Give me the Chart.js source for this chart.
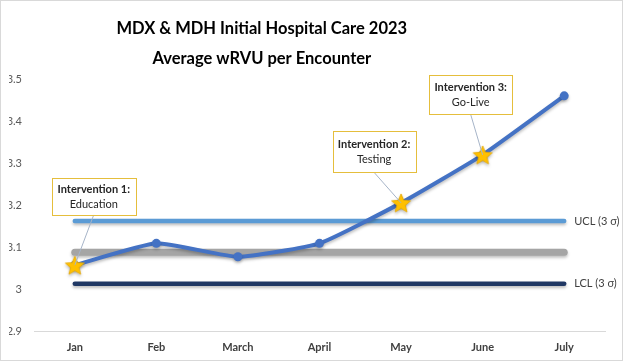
<!DOCTYPE html>
<html>
<head>
<meta charset="utf-8">
<title>MDX & MDH Initial Hospital Care 2023</title>
<script src="https://cdn.jsdelivr.net/npm/chart.js@4.4.1/dist/chart.umd.min.js"></script>
<style>
    html, body { margin: 0; padding: 0; background: #fff; }
    .chart-box {
        width: 621px;
        height: 359px;
        border: 1px solid #D9D9D9;
        position: relative;
    }
</style>
</head>
<body>
<div class="chart-box">
    <canvas id="wrvu-chart"></canvas>
</div>
<script>
// 数据
const months = ['Jan', 'Feb', 'March', 'April', 'May', 'June', 'July'];
const wrvu = [3.058, 3.11, 3.078, 3.11, 3.206, 3.32, 3.46];
const ucl = [3.163, 3.163, 3.163, 3.163, 3.163, 3.163, 3.163];
const mean = [3.089, 3.089, 3.089, 3.089, 3.089, 3.089, 3.089];
const lcl = [3.014, 3.014, 3.014, 3.014, 3.014, 3.014, 3.014];
const yTicks = [2.9, 3.0, 3.1, 3.2, 3.3, 3.4, 3.5];
const titleLines = ['MDX & MDH Initial Hospital Care 2023', 'Average wRVU per Encounter'];
// 干预节点 (月份索引 -> 标题 / 说明)
const interventionMonths = [0, 4, 5];
const interventionTitles = ['Intervention 1:', 'Intervention 2:', 'Intervention 3:'];
const interventionNotes = ['Education', 'Testing', 'Go-Live'];

const FONT = 'Lato, "Open Sans", sans-serif';

// 星形标记
function makeStar(size) {
    const c = document.createElement('canvas');
    c.width = size;
    c.height = size;
    const g = c.getContext('2d');
    const cx = size / 2, cy = size / 2 + 1;
    const outer = size / 2 - 1, inner = outer * 0.45;
    g.beginPath();
    for (let i = 0; i < 10; i++) {
        const r = i % 2 === 0 ? outer : inner;
        const a = -Math.PI / 2 + i * Math.PI / 5;
        g.lineTo(cx + r * Math.cos(a), cy + r * Math.sin(a));
    }
    g.closePath();
    g.fillStyle = '#FFC000';
    g.fill();
    g.strokeStyle = '#E6A800';
    g.lineWidth = 0.8;
    g.stroke();
    return c;
}

const starData = months.map((m, i) => interventionMonths.includes(i) ? wrvu[i] : null);

// 标题 (偏左居中, 与原图一致)
const titlePlugin = {
    id: 'chartTitle',
    afterDraw(chart) {
        const ctx = chart.ctx;
        ctx.save();
        ctx.fillStyle = '#000000';
        ctx.font = 'bold 16.5px ' + FONT;
        ctx.textAlign = 'center';
        ctx.textBaseline = 'middle';
        const cx = chart.width * 0.42;
        titleLines.forEach((t, i) => ctx.fillText(t, cx, 28 + i * 30));
        ctx.restore();
    }
};

// 标注框位置 (相对星形标记的偏移)
const calloutOffsets = [
    { dx: 19, dy: -69, w: 84, h: 37 },
    { dx: -27, dy: -51, w: 83, h: 41 },
    { dx: -12, dy: -60, w: 83, h: 39 }
];

const calloutPlugin = {
    id: 'callouts',
    afterDatasetsDraw(chart) {
        const ctx = chart.ctx;
        const meta = chart.getDatasetMeta(0);
        ctx.save();
        interventionMonths.forEach((idx, k) => {
            const pt = meta.data[idx];
            const o = calloutOffsets[k];
            const bx = pt.x + o.dx, by = pt.y + o.dy;
            // 连接线
            ctx.strokeStyle = '#A6B4C8';
            ctx.lineWidth = 1;
            ctx.beginPath();
            ctx.moveTo(bx, by + o.h / 2);
            ctx.lineTo(pt.x, pt.y);
            ctx.stroke();
            // 框
            ctx.fillStyle = '#FFFFFF';
            ctx.fillRect(bx - o.w / 2, by - o.h / 2, o.w, o.h);
            ctx.strokeStyle = '#E5BE3C';
            ctx.lineWidth = 1;
            ctx.strokeRect(Math.round(bx - o.w / 2) + 0.5, Math.round(by - o.h / 2) + 0.5, o.w, o.h);
            // 文字
            ctx.fillStyle = '#262626';
            ctx.textAlign = 'center';
            ctx.textBaseline = 'middle';
            ctx.font = 'bold 11px ' + FONT;
            ctx.fillText(interventionTitles[k], bx, by - 7);
            ctx.font = '11px ' + FONT;
            ctx.fillText(interventionNotes[k], bx, by + 8);
        });
        ctx.restore();
    }
};

// 控制限标签
const limitLabelPlugin = {
    id: 'limitLabels',
    afterDatasetsDraw(chart) {
        const ctx = chart.ctx;
        ctx.save();
        ctx.fillStyle = '#404040';
        ctx.font = '11px ' + FONT;
        ctx.textAlign = 'left';
        ctx.textBaseline = 'middle';
        [[2, 'UCL (3 σ)'], [4, 'LCL (3 σ)']].forEach(([di, text]) => {
            const m = chart.getDatasetMeta(di);
            const last = m.data[m.data.length - 1];
            ctx.fillText(text, last.x + 10, last.y);
        });
        ctx.restore();
    }
};

// 线条阴影
const shadowPlugin = {
    id: 'lineShadow',
    beforeDatasetsDraw(chart) {
        chart.ctx.save();
        chart.ctx.shadowColor = 'rgba(0,0,0,0.25)';
        chart.ctx.shadowBlur = 3;
        chart.ctx.shadowOffsetY = 2;
    },
    afterDatasetsDraw(chart) {
        chart.ctx.restore();
    }
};

const lineDefaults = {
    fill: false,
    pointRadius: 0,
    borderCapStyle: 'round'
};

new Chart(document.getElementById('wrvu-chart'), {
    type: 'line',
    data: {
        labels: months,
        datasets: [
            {
                label: 'wRVU',
                data: wrvu,
                borderColor: '#4472C4',
                backgroundColor: '#4472C4',
                borderWidth: 4,
                tension: 0.15,
                pointRadius: 4.5,
                pointBorderWidth: 0,
                borderCapStyle: 'round',
                order: 1
            },
            {
                label: 'Intervention',
                data: starData,
                showLine: false,
                pointStyle: makeStar(22),
                pointRadius: 11,
                order: 0
            },
            Object.assign({ label: 'UCL', data: ucl, borderColor: '#5B9BD5', borderWidth: 4.5, order: 3 }, lineDefaults),
            Object.assign({ label: 'Mean', data: mean, borderColor: '#A5A5A5', borderWidth: 7, order: 4 }, lineDefaults),
            Object.assign({ label: 'LCL', data: lcl, borderColor: '#203864', borderWidth: 4.5, order: 2 }, lineDefaults)
        ]
    },
    options: {
        responsive: true,
        maintainAspectRatio: false,
        animation: false,
        layout: {
            padding: { left: 8, right: 17, top: 78, bottom: 5 }
        },
        plugins: {
            legend: { display: false },
            tooltip: { enabled: false },
            title: { display: false }
        },
        scales: {
            x: {
                offset: true,
                grid: { display: false },
                border: { display: true, color: '#D9D9D9', width: 1 },
                ticks: {
                    color: '#404040',
                    font: { family: FONT, size: 11, weight: 'bold' },
                    padding: 1,
                    maxRotation: 0
                }
            },
            y: {
                min: 2.9,
                max: 3.5,
                afterBuildTicks(scale) {
                    scale.ticks = yTicks.map(v => ({ value: v }));
                },
                afterFit(scale) {
                    scale.width = 25;
                },
                grid: { display: false },
                border: { display: false },
                ticks: {
                    color: '#595959',
                    font: { family: FONT, size: 11 },
                    padding: 4,
                    callback: v => String(Number(v.toFixed(1)))
                }
            }
        }
    },
    plugins: [shadowPlugin, calloutPlugin, limitLabelPlugin, titlePlugin]
});
</script>
</body>
</html>
